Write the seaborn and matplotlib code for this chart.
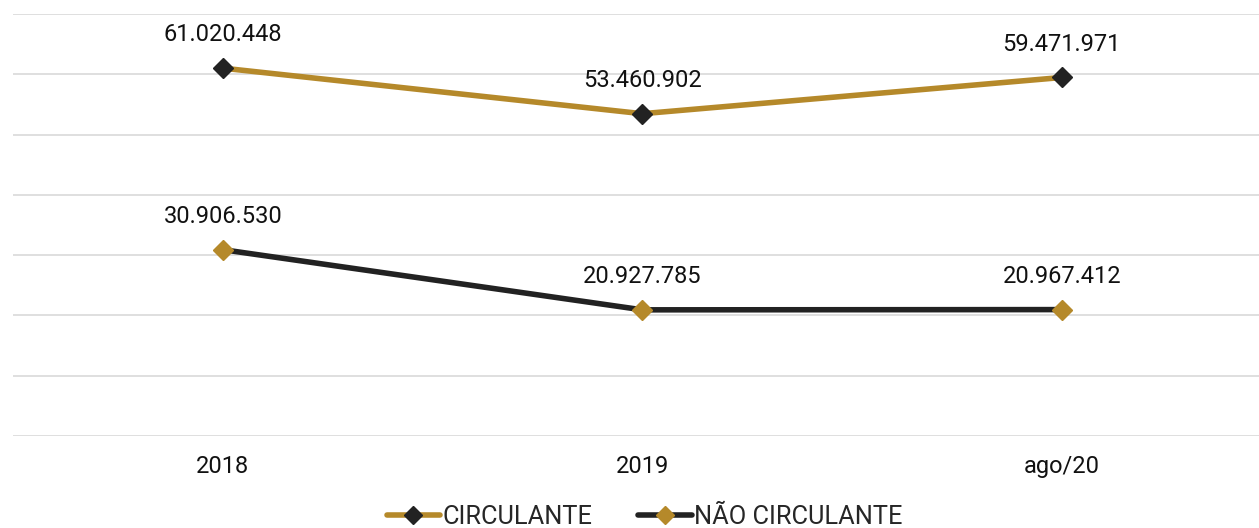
import pandas as pd
import numpy as np
import matplotlib.pyplot as plt
import seaborn as sns
from matplotlib.lines import Line2D

periodos = ['2018', '2019', 'ago/20']
circulante = [61020448, 53460902, 59471971]
nao_circulante = [30906530, 20927785, 20967412]

sns.set_theme(style='white')
plt.rcParams['font.family'] = ['Roboto', 'DejaVu Sans']

dourado = '#B5892A'
preto = '#222222'

df = pd.DataFrame({
    'periodo': periodos * 2,
    'valor': circulante + nao_circulante,
    'serie': ['CIRCULANTE'] * 3 + ['NÃO CIRCULANTE'] * 3,
})

fig = plt.figure(figsize=(12.59, 5.28), dpi=100)
ax = fig.add_axes([13 / 1259, 92 / 528, 1 - 13 / 1259, 422 / 528])

sns.lineplot(data=df, x='periodo', y='valor', hue='serie',
             palette={'CIRCULANTE': dourado, 'NÃO CIRCULANTE': preto},
             linewidth=4, ax=ax, legend=False, sort=False)
# marcadores com cor invertida
ax.plot(periodos, circulante, linestyle='none', marker='D', markersize=10,
        color=preto, zorder=5)
ax.plot(periodos, nao_circulante, linestyle='none', marker='D', markersize=10,
        color=dourado, zorder=5)

def fmt(v):
    return f'{v:,}'.replace(',', '.')

for i, p in enumerate(periodos):
    for v in (circulante[i], nao_circulante[i]):
        ax.annotate(fmt(v), (i, v), xytext=(0, 24), textcoords='offset points',
                    ha='center', va='center', fontsize=17, color='#111111')

ax.set_ylim(0, 70000000)
ax.set_xlim(-0.5, 2.47)
ax.set_yticks(np.arange(0, 70000001, 10000000))
ax.yaxis.grid(True, color='#D9D9D9', linewidth=1.2)
ax.set_yticklabels([])
ax.tick_params(axis='y', length=0)
ax.tick_params(axis='x', length=0, labelsize=17, pad=14, colors='#111111')
ax.set_xlabel('')
ax.set_ylabel('')
for s in ax.spines.values():
    s.set_visible(False)

handles = [
    Line2D([], [], color=dourado, linewidth=4, marker='D', markersize=9,
           markerfacecolor=preto, markeredgecolor=preto),
    Line2D([], [], color=preto, linewidth=4, marker='D', markersize=9,
           markerfacecolor=dourado, markeredgecolor=dourado),
]
fig.legend(handles, ['CIRCULANTE', 'NÃO CIRCULANTE'], loc='center',
           bbox_to_anchor=(0.512, 1 - 517 / 528), ncol=2, frameon=False,
           fontsize=18.3, handlelength=2.1, handletextpad=0.1, columnspacing=1.8)

fig.savefig('out.png', dpi=100)
